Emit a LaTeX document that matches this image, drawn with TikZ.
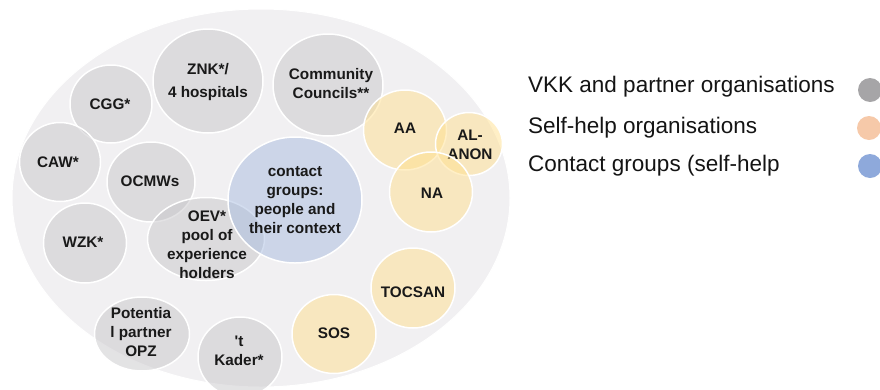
\documentclass[tikz,border=0pt]{standalone}
\usepackage{fontspec}
\setmainfont{Liberation Sans}[Ligatures=TeXOff]
\usetikzlibrary{shapes.geometric}
\definecolor{bgell}{HTML}{F1F0F2}
\definecolor{gbase}{HTML}{C8C7CA}
\definecolor{ybase}{HTML}{FFE08E}
\definecolor{bbase}{HTML}{A8BCE0}
\definecolor{lgray}{HTML}{A6A5A7}
\definecolor{lorange}{HTML}{F6C9A9}
\definecolor{lblue}{HTML}{8EA9DB}
\tikzset{
  blob/.style={ellipse, draw=white, line width=1.5pt, fill opacity=0.5, text opacity=1, inner sep=0pt},
  gcirc/.style={blob, fill=gbase},
  ycirc/.style={blob, fill=ybase},
  bcirc/.style={blob, fill=bbase},
  lbl/.style={align=center, inner sep=0pt, font=\bfseries\fontsize{15.3}{19}\selectfont, text=black!90},
  legtext/.style={anchor=base west, inner sep=0pt, font=\fontsize{22.5}{26}\selectfont, text=black!92},
  legdot/.style={circle, minimum size=24pt, inner sep=0pt}
}
\begin{document}
\begin{tikzpicture}[x=1pt,y=-1pt]
\useasboundingbox (0,0) rectangle (880,389);
% big container
\node[ellipse, fill=bgell, draw=white, line width=1pt, minimum width=498pt, minimum height=378pt, inner sep=0pt] (outer) at (261,198) {};
% grey organisations
\node[gcirc, minimum width=110pt, minimum height=104pt] (znk) at (208,81) {};
\node[lbl, font=\bfseries\fontsize{15.3}{23}\selectfont] (znkt) at (208,82.5) {ZNK*/\\4 hospitals};
\node[gcirc, minimum width=110pt, minimum height=102pt] (cc) at (328,85) {};
\node[lbl] (cct) at (331,83.5) {Community\\Councils**};
\node[gcirc, minimum width=82pt, minimum height=78pt] (cgg) at (111,104) {};
\node[lbl] (cggt) at (110,104) {CGG*};
\node[gcirc, minimum width=81pt, minimum height=79pt] (caw) at (60,162) {};
\node[lbl] (cawt) at (58,162) {CAW*};
\node[gcirc, minimum width=88pt, minimum height=80pt] (ocmw) at (151,182) {};
\node[lbl] (ocmwt) at (150,181) {OCMWs};
\node[gcirc, minimum width=83pt, minimum height=80pt] (wzk) at (85,243) {};
\node[lbl] (wzkt) at (83,242) {WZK*};
\node[gcirc, minimum width=117pt, minimum height=83pt] (oev) at (206,239) {};
\node[lbl] (oevt) at (207,244.5) {OEV*\\pool of\\experience\\holders};
\node[gcirc, minimum width=95pt, minimum height=74pt] (opz) at (142,334) {};
\node[lbl] (opzt) at (141,332) {Potentia\\l partner\\OPZ};
\node[gcirc, minimum width=84pt, minimum height=80pt] (kader) at (240,357) {};
\node[lbl] (kadert) at (239,351) {'t\\Kader*};
% contact groups
\node[bcirc, minimum width=134pt, minimum height=126pt] (cg) at (295,200) {};
\node[lbl] (cgt) at (295,200) {contact\\groups:\\people and\\their context};
% self-help organisations
\node[ycirc, minimum width=83pt, minimum height=80pt] (aa) at (405,130) {};
\node[lbl] (aat) at (405,128) {AA};
\node[ycirc, minimum width=67pt, minimum height=63pt] (alanon) at (469,144) {};
\node[lbl] (alanont) at (470,144.5) {AL-\\ANON};
\node[ycirc, minimum width=83pt, minimum height=80pt] (na) at (431,192) {};
\node[lbl] (nat) at (432,193) {NA};
\node[ycirc, minimum width=84pt, minimum height=80pt] (tocsan) at (413,288) {};
\node[lbl] (tocsant) at (413,292) {TOCSAN};
\node[ycirc, minimum width=84pt, minimum height=79pt] (sos) at (334,334) {};
\node[lbl] (sost) at (334,333) {SOS};
% legend
\node[legtext] (l1) at (528,92) {VKK and partner organisations};
\node[legtext] (l2) at (528,133) {Self-help organisations};
\node[legtext] (l3) at (528,171) {Contact groups (self-help};
\node[legdot, fill=lgray] (d1) at (870,90) {};
\node[legdot, fill=lorange] (d2) at (869,128) {};
\node[legdot, fill=lblue] (d3) at (870,166) {};
\end{tikzpicture}
\end{document}
